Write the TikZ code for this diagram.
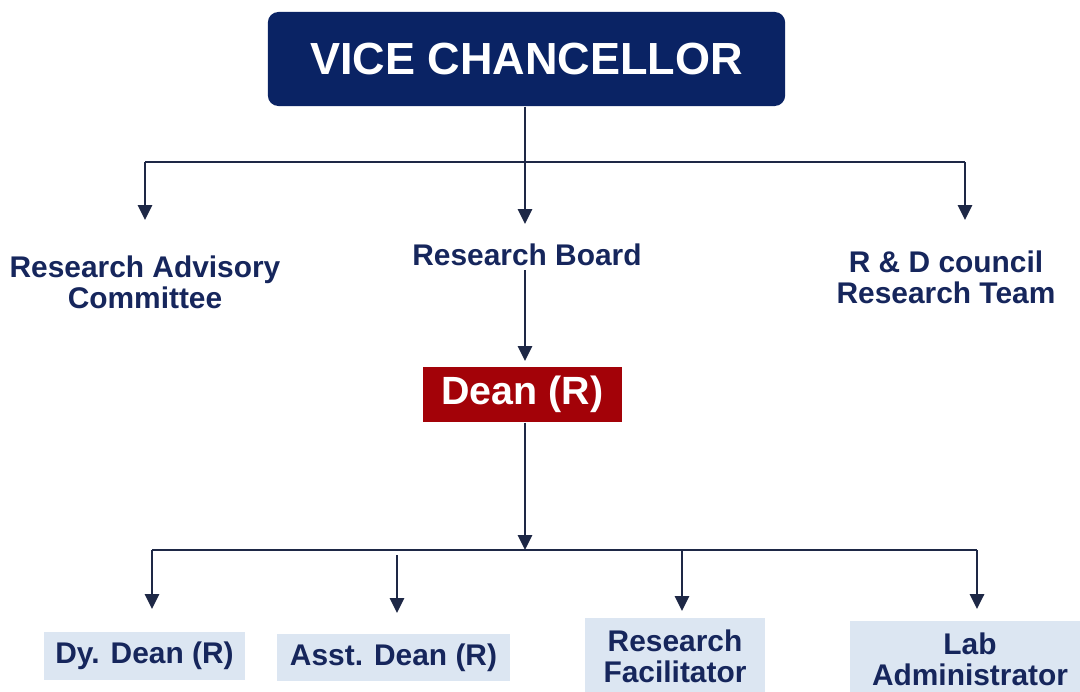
\documentclass[tikz,border=0pt]{standalone}
\usepackage{fontspec}
\setmainfont{Liberation Sans}
\usepackage{xcolor}
\usetikzlibrary{arrows.meta,positioning}

\definecolor{vcblue}{RGB}{10,35,100}
\definecolor{deanred}{RGB}{163,2,8}
\definecolor{lightbox}{RGB}{220,230,242}
\definecolor{txtblue}{RGB}{22,38,92}
\definecolor{linecol}{RGB}{30,40,70}

\begin{document}
\begin{tikzpicture}[
  x=0.01cm, y=-0.01cm,
  small/.style={font=\fontsize{8.5}{8.9}\selectfont\bfseries, text=txtblue, align=center, inner sep=1pt},
  lowbox/.style={small, rectangle, fill=lightbox, inner sep=0pt},
  line/.style={draw=linecol, line width=0.65pt},
  arr/.style={line, -{Triangle[length=4.2pt,width=4pt]}},
]
\useasboundingbox (0,0) rectangle (1080,691);

% head
\node[rectangle, rounded corners=3pt, fill=vcblue, text=white,
      minimum width=5.17cm, minimum height=0.94cm, inner sep=0pt,
      font=\fontsize{12.8}{14}\selectfont\bfseries] (vc) at (526.5,59) {VICE CHANCELLOR};

% second row
\node[small] (rac) at (145,282) {Research Advisory\\Committee};
\node[small] (rb)  at (527,255) {Research Board};
\node[small] (rdc) at (946,277) {R \& D council\\Research Team};

\node[rectangle, fill=deanred, text=white, minimum width=1.99cm, minimum height=0.55cm,
      inner sep=0pt, font=\fontsize{11.2}{13}\selectfont\bfseries] (dean) at (522.5,394.5) {Dean (R)};

% bottom row
\node[lowbox, minimum width=2.01cm, minimum height=0.48cm] (dyd) at (144.5,656) {\raisebox{-1.2pt}{Dy. Dean (R)}};
\node[lowbox, minimum width=2.33cm, minimum height=0.47cm] (asd) at (393.5,657.5) {\raisebox{-1.2pt}{Asst. Dean (R)}};
\node[lowbox, minimum width=1.80cm, minimum height=0.76cm] (rf)  at (675,656) {Research\\Facilitator};
\node[lowbox, minimum width=2.40cm, minimum height=0.76cm] (lab) at (970,659) {Lab\\Administrator};

% junctions and arrow ends
\coordinate (jtop) at (525,162);
\coordinate (ltop) at (145,162);
\coordinate (rtop) at (965,162);
\coordinate (tA1) at (145,220);
\coordinate (tA2) at (525,224);
\coordinate (tA3) at (965,220);

\coordinate (jlow) at (525,550);
\coordinate (llow) at (152,550);
\coordinate (rlow) at (977,550);
\coordinate (sB2) at (397,555);
\coordinate (tB1) at (152,609);
\coordinate (tB2) at (397,613);
\coordinate (tB3) at (682,611);
\coordinate (tB4) at (977,609);

\draw[line] (vc.south -| jtop) -- (jtop);
\draw[line] (ltop) -- (rtop);
\draw[arr] (ltop) -- (tA1);
\draw[arr] (jtop) -- (tA2);
\draw[arr] (rtop) -- (tA3);

\draw[arr, shorten >=1.5pt] (rb.south -| jtop) -- (dean.north -| jtop);
\draw[arr] (dean.south -| jlow) -- (jlow);

\draw[line] (llow) -- (rlow);
\draw[arr] (llow) -- (tB1);
\draw[arr] (sB2) -- (tB2);
\draw[arr] (tB3 |- jlow) -- (tB3);
\draw[arr] (rlow) -- (tB4);
\end{tikzpicture}
\end{document}
